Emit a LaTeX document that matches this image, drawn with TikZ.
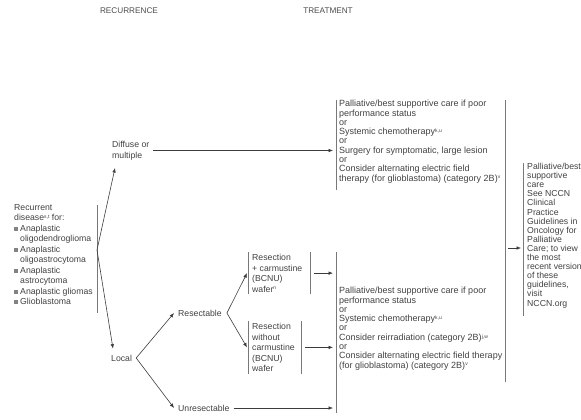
\documentclass[tikz,border=0pt]{standalone}
\usepackage{fontspec}
\setmainfont{Liberation Sans}
\usetikzlibrary{arrows.meta}

\newcommand{\bul}{\makebox[6pt][l]{\textcolor{bulcolor}{\rule[0.4pt]{3.8pt}{3.8pt}}}}
\newcommand{\ind}{\hspace*{6pt}}
\newcommand{\sups}[1]{\raisebox{2.2pt}{\fontsize{5}{5}\selectfont #1}}

\begin{document}
\begin{tikzpicture}[x=1pt, y=-1pt,
        txt/.style={inner sep=0pt, align=left, anchor=north west, text=textcolor,
            font=\fontsize{8.7}{9.1}\selectfont},
        wide/.style={font=\fontsize{9}{9.3}\selectfont},
        loose/.style={font=\fontsize{8.7}{10.5}\selectfont},
        head/.style={inner sep=0pt, text=headcolor, font=\fontsize{8.2}{9}\selectfont},
        bar/.style={draw=barcolor, line width=0.7pt},
        arr/.style={draw=arrcolor, line width=0.6pt, -{Latex[length=4.5pt,width=3.6pt]}}]

        % -- colour definitions --------------------------------------------------
        \definecolor{textcolor}{RGB}{65,65,65}
        \definecolor{headcolor}{RGB}{75,75,75}
        \definecolor{barcolor}{RGB}{120,120,120}
        \definecolor{arrcolor}{RGB}{60,60,60}
        \definecolor{bulcolor}{RGB}{130,130,130}

        \useasboundingbox (0,0) rectangle (581,420);

        % -- column headings -----------------------------------------------------
        \node[head] (recur) at (129,11) {RECURRENCE};
        \node[head] (treat) at (328,11) {TREATMENT};

        % -- recurrent disease ---------------------------------------------------
        \node[txt, loose] (recdis) at (14,204) {Recurrent\\
            disease\sups{s,t} for:\\
            \bul Anaplastic\\
            \ind oligodendroglioma\\
            \bul Anaplastic\\
            \ind oligoastrocytoma\\
            \bul Anaplastic\\
            \ind astrocytoma\\
            \bul Anaplastic gliomas\\
            \bul Glioblastoma};
        \draw[bar] (97,205) -- (97,313);
        \coordinate (fork) at (97,250);

        % -- diffuse / local -----------------------------------------------------
        \node[txt, loose] (diffuse) at (112,141) {Diffuse or\\multiple};
        \node[txt, anchor=west] (local) at (111,358) {Local};
        \draw[arr] (fork) -- ([shift={(3,8)}]diffuse.south west);
        \draw[arr] (fork) -- ([shift={(2,-6)}]local.north west);

        % -- resectable / unresectable -------------------------------------------
        \node[txt, anchor=west] (resect) at (178,313) {Resectable};
        \node[txt, anchor=west] (unres) at (178,408) {Unresectable};
        \coordinate (lcorner) at ([shift={(4,0)}]local.east);
        \draw[arr] (lcorner) -- ([shift={(-4,0)}]resect.west);
        \draw[arr] (lcorner) -- ([shift={(-4,0)}]unres.west);

        % -- resection boxes -----------------------------------------------------
        \node[txt, loose] (rcarm) at (252,254) {Resection\\+ carmustine\\(BCNU)\\wafer\sups{n}};
        \node[txt, loose] (rnocarm) at (252,323) {Resection\\without\\carmustine\\(BCNU)\\wafer};
        \draw[bar] ([shift={(-4,-2)}]rcarm.north west) -- ([shift={(-4,2)}]rcarm.south west);
        \draw[bar] ([shift={(8,-2)}]rcarm.north east) -- ([shift={(8,2)}]rcarm.south east);
        \draw[bar] ([shift={(-4,-2)}]rnocarm.north west) -- ([shift={(-4,2)}]rnocarm.south west);
        \draw[bar] ([shift={(6,-2)}]rnocarm.north east) -- ([shift={(6,2)}]rnocarm.south east);
        \coordinate (rcorner) at ([shift={(5,0)}]resect.east);
        \draw[arr] (rcorner) -- ([shift={(-5,0)}]rcarm.west);
        \draw[arr] (rcorner) -- ([shift={(-5,0)}]rnocarm.west);

        % -- treatment boxes -----------------------------------------------------
        \coordinate (tbar1) at (336,100);
        \coordinate (tbar2) at (336,252);
        \draw[bar] (tbar1) -- (336,190);
        \draw[bar] (tbar2) -- (336,413);
        \node[txt, wide] (treat1) at (339,100) {Palliative/best supportive care if poor\\
            performance status\\
            or\\
            Systemic chemotherapy\sups{k,u}\\
            or\\
            Surgery for symptomatic, large lesion\\
            or\\
            Consider alternating electric field\\
            therapy (for glioblastoma) (category 2B)\sups{v}};
        \node[txt, wide] (treat2) at (339,287) {Palliative/best supportive care if poor\\
            performance status\\
            or\\
            Systemic chemotherapy\sups{k,u}\\
            or\\
            Consider reirradiation (category 2B)\sups{j,w}\\
            or\\
            Consider alternating electric field therapy\\
            (for glioblastoma) (category 2B)\sups{v}};
        \draw[arr] ([shift={(4,0)}]diffuse.east) -- ([shift={(-3,0)}]diffuse.east -| tbar1);
        \draw[arr] ([shift={(12,0)}]rcarm.east) -- ([shift={(-3,0)}]rcarm.east -| tbar2);
        \draw[arr] ([shift={(10,0)}]rnocarm.east) -- ([shift={(-3,0)}]rnocarm.east -| tbar2);
        \draw[arr] ([shift={(4,0)}]unres.east) -- ([shift={(-3,0)}]unres.east -| tbar2);

        % -- palliative care -----------------------------------------------------
        \draw[bar] (505,100) -- (505,382);
        \coordinate (merge) at (505,248);
        \node[txt] (pallcare) at (527,163) {Palliative/best\\
            supportive\\
            care\\
            See NCCN\\
            Clinical\\
            Practice\\
            Guidelines in\\
            Oncology for\\
            Palliative\\
            Care; to view\\
            the most\\
            recent version\\
            of these\\
            guidelines,\\
            visit\\
            NCCN.org};
        \draw[bar] ([shift={(-4,0)}]pallcare.north west) -- ([shift={(-4,8)}]pallcare.south west);
        \draw[arr] ([shift={(3,0)}]merge) -- ([shift={(-6,0)}]merge -| pallcare.west);
    \end{tikzpicture}
\end{document}
